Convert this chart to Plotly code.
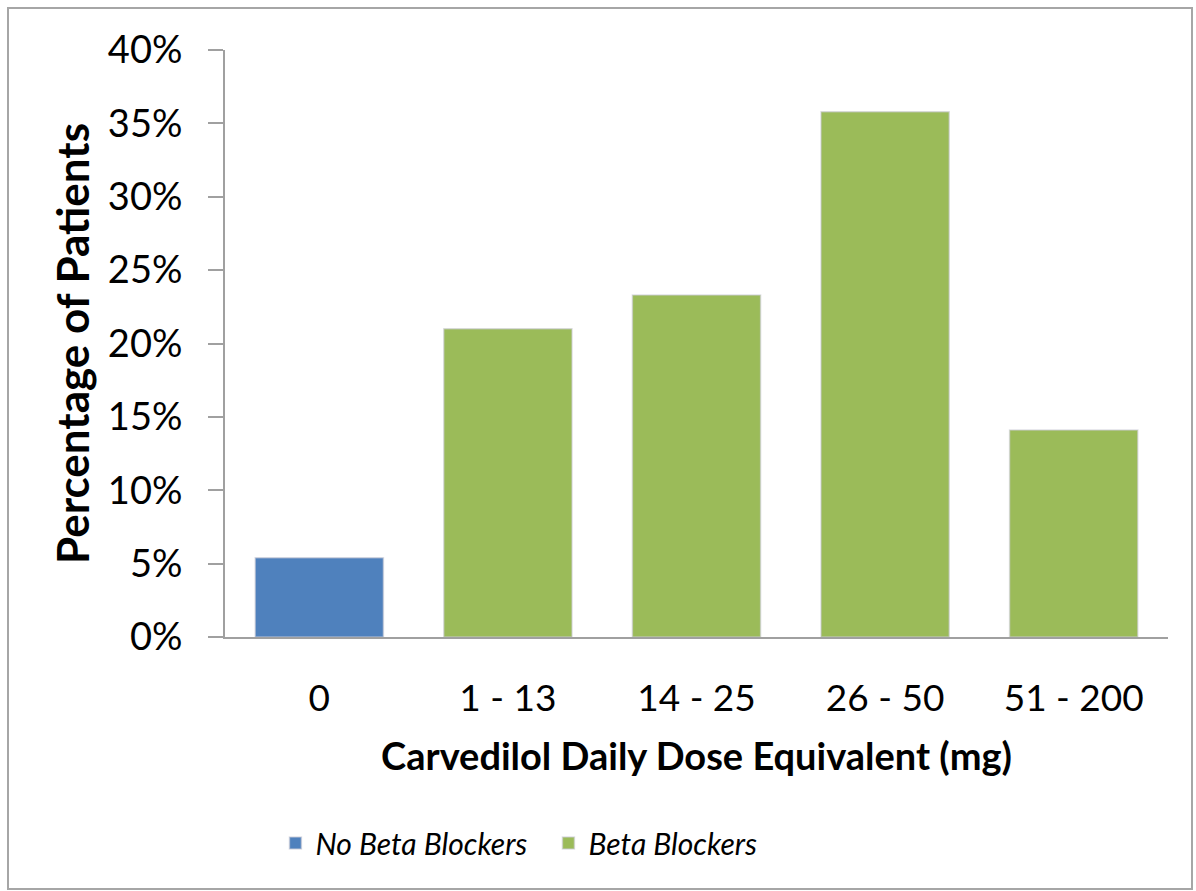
import plotly.graph_objects as go

# Dose groups and share of patients in each (percent)
categories = ["0", "1 - 13", "14 - 25", "26 - 50", "51 - 200"]
no_bb_categories = ["0"]
no_bb_values = [5.4]
bb_categories = ["1 - 13", "14 - 25", "26 - 50", "51 - 200"]
bb_values = [21.0, 23.3, 35.8, 14.1]
y_ticks = [0, 5, 10, 15, 20, 25, 30, 35, 40]
y_tick_labels = [f"{v}%" for v in y_ticks]

FONT = "Lato, 'Open Sans', sans-serif"
BLUE = "#4F81BD"
GREEN = "#9BBB59"
EDGE = "rgba(205,205,215,0.6)"

fig = go.Figure()
fig.add_trace(go.Bar(
    x=no_bb_categories, y=no_bb_values, name="No Beta Blockers",
    marker=dict(color=BLUE, line=dict(color=EDGE, width=1.5)),
    width=0.68,
))
fig.add_trace(go.Bar(
    x=bb_categories, y=bb_values, name="Beta Blockers",
    marker=dict(color=GREEN, line=dict(color=EDGE, width=1.5)),
    width=0.68,
))

fig.update_layout(
    width=1196, height=891,
    margin=dict(l=225, r=28, t=50, b=254),
    paper_bgcolor="white", plot_bgcolor="white",
    barmode="overlay",
    font=dict(family=FONT, color="black"),
    showlegend=True,
    legend=dict(
        orientation="h", x=0.343, xanchor="center", y=-0.351, yanchor="middle",
        font=dict(family=FONT, size=30, style="italic", color="black"),
        itemwidth=30, traceorder="normal",
        entrywidth=228, entrywidthmode="pixels",
    ),
    xaxis=dict(
        type="category", categoryorder="array", categoryarray=categories,
        range=[-0.5, 4.5],
        showline=True, linecolor="#A0A0A0", linewidth=2,
        ticks="", tickfont=dict(size=37, family=FONT),
        ticklabelstandoff=28,
        title=dict(text="<b>Carvedilol Daily Dose Equivalent (mg)</b>",
                   font=dict(size=38, family=FONT), standoff=25),
        showgrid=False, zeroline=False,
    ),
    yaxis=dict(
        range=[0, 40], tickvals=y_ticks, ticktext=y_tick_labels,
        showline=True, linecolor="#A0A0A0", linewidth=2,
        ticks="outside", ticklen=15, tickcolor="#A0A0A0", tickwidth=2,
        tickfont=dict(size=38, family=FONT),
        ticklabelstandoff=18,
        title=dict(text="<b>Percentage of Patients</b>",
                   font=dict(size=44, family=FONT), standoff=4),
        showgrid=False, zeroline=False,
    ),
)

# Outer frame around the whole chart
fig.add_shape(
    type="rect", xref="paper", yref="paper",
    x0=(8 - 225) / 943, x1=(1192 - 225) / 943,
    y0=(637 - 889) / 587, y1=(637 - 8) / 587,
    line=dict(color="#A6A6A6", width=2), fillcolor="rgba(0,0,0,0)",
    layer="below",
)

fig.write_html("out.html")
